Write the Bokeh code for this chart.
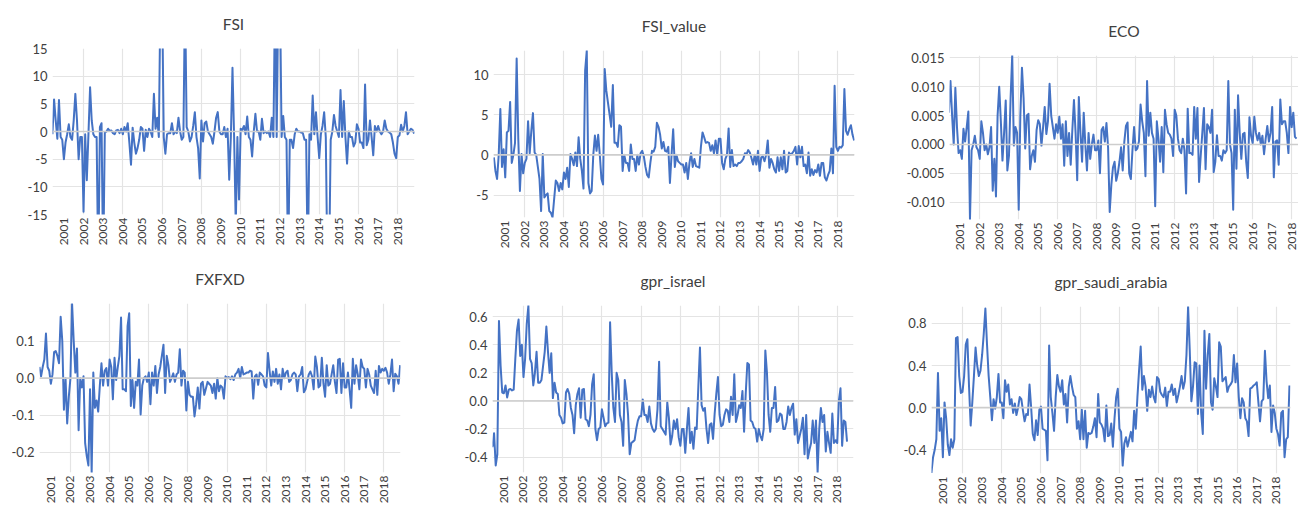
import numpy as np
import pandas as pd
from bokeh.plotting import figure
from bokeh.layouts import row, column
from bokeh.models import FixedTicker, PrintfTickFormatter, Span, Range1d, Title
from bokeh.embed import file_html
from bokeh.resources import INLINE

START = "2000-06-01"
YEAR_LABELS = list(range(2001, 2019))
GRID_YEARS = list(range(2002, 2019, 2))

fsi = [
    -0.5, 5.8, 2.0, -1.3, 5.7, -1.0, -1.5,
    -5.0, -2.0, -0.5, 1.3, -1.0, -1.5, 2.0, 6.8, 2.0, -5.0, -1.0, -1.0,
    -14.5, -0.5, -8.8, -0.5, 8.0, 2.0, -0.5, -1.0, -1.0, -25, 0.8, 1.5,
    -25, -0.2, 0.0, 0.5, 0.1, 0.2, -0.3, -0.5, 0.2, 0.3, -0.3, 0.5,
    -0.5, 0.8, 0.0, 1.5, -2.0, -6.0, 0.7, -2.0, -4.0, -3.0, -1.5, 0.8,
    0.5, -3.5, 0.3, -1.0, 0.5, 0.0, -1.0, 6.8, 0.5, 2.5, -1.0, 25,
    25, -1.0, -4.0, -0.5, -0.3, -0.3, 1.5, -0.5, 0.0, -0.3, 2.5, 0.0,
    -1.5, -1.0, 25, 0.8, 0.0, -1.8, -1.0, 1.0, 3.5, -1.0, -3.0, -8.5,
    2.0, -1.8, 1.5, 1.8, 0.0, -0.5, -1.0, -2.2, 0.0, 2.5, 3.5, 0.0,
    -0.5, -0.5, 0.8, -1.0, 0.5, -8.7, -1.0, 11.5, -1.0, -17, -1.0, -12.3,
    0.5, 0.3, 1.0, -0.5, 2.7, -1.0, -1.5, -4.5, 0.0, 3.2, 0.0, 0.0,
    -1.5, 2.3, -0.3, 0.0, -0.3, 0.0, -1.0, 2.5, -1.0, 25, -1.0, 25,
    25, -1.0, 2.8, -1.0, -1.5, -25, -1.5, -1.5, -3.0, -0.5, 0.5, 0.0,
    0.0, -0.2, -0.3, -1.5, -1.5, -25, -0.5, -1.5, 6.5, -0.5, 3.5, -1.0,
    -4.8, -0.5, 1.0, 3.5, -1.0, -25, -25, -1.5, 0.0, 3.0, 1.0, 0.0,
    -1.0, 7.5, -1.0, 5.5, -1.0, -5.8, 0.0, -1.0, -1.0, -2.7, -2.0, 1.3,
    0.5, -2.0, -2.0, -3.0, 8.5, -2.5, -1.5, 2.0, -1.0, -4.3, 1.0, 0.0,
    1.0, 0.0, -0.5, 0.0, 2.0, 0.5, 0.0, -0.2, -0.5, -2.0, -4.0, -4.8,
    -1.0, -0.7, 1.2, 0.0, 1.0, 3.5, -0.5, 0.0, 0.5, 0.3, -0.4,
]

fsi_value = [
    -0.3, -2.0, -3.0, 0.0, 5.7, -1.5, 0.7,
    -2.8, 2.8, 3.0, 6.6, -1.0, 0.0, 1.5, 12.0, 2.0, -4.5, 0.1, -2.3,
    -1.0, -0.5, 4.2, 0.2, 3.0, 5.2, 0.3, 0.0, -1.5, -3.0, -7.0, 0.1,
    -5.3, -5.0, -4.8, -7.0, -7.2, -7.8, -5.5, -3.2, -3.5, -4.5, -3.5, -4.3,
    -2.2, -3.0, -1.6, -4.0, 0.1, -0.5, -1.3, 0.3, -1.4, 2.2, -0.5, -2.0,
    -4.2, 10.5, 13.0, -3.5, -4.8, -4.5, 0.0, 2.4, 0.5, 2.5, 0.0, -3.0,
    -3.7, 10.7, 8.0, 6.5, 5.0, 3.5, 8.7, 1.5, 1.5, 1.0, 3.7, 3.5,
    -2.0, 0.0, -1.0, -1.0, -2.0, 1.3, -0.5, -0.5, -2.0, 0.0, -1.2, 0.2,
    0.5, -0.2, -1.5, -2.5, -2.8, -1.0, 0.5, 0.4, 1.0, 4.0, 3.5, 2.5,
    0.8, 1.6, 0.5, 0.4, 1.0, -3.5, 0.0, 3.2, -1.5, 0.0, -0.8, -1.0,
    -1.2, -1.2, -2.2, -1.0, -3.0, -1.0, 0.2, -1.5, -0.5, -1.4, -1.5, -1.6,
    1.0, 2.8, 2.2, 1.5, 1.6, 1.5, 0.5, 1.2, 0.2, 1.8, 0.0, 2.0,
    2.0, -1.0, -1.8, -0.5, 0.0, 3.3, -1.5, 0.6, -1.4, -1.2, -1.4, -1.0,
    -1.0, -0.8, -0.5, 0.2, 0.1, 0.6, 0.3, -0.4, -1.2, 0.0, -1.2, 0.5,
    -2.0, -0.3, -0.2, -0.8, 0.0, 1.8, -1.6, -0.5, -1.0, -1.8, -2.2, -0.3,
    -2.0, -0.3, -1.8, 0.5, -2.2, -2.0, 0.3, 0.0, 0.2, 0.5, 1.0, -1.2,
    1.1, -0.3, 1.0, -1.4, -1.2, -2.3, 0.3, -2.6, -1.8, -2.5, -1.9, -2.2,
    -1.2, -2.6, -1.0, -1.0, -2.8, -3.2, -2.5, -2.0, 0.8, -2.3, 8.6, 1.0,
    0.5, 1.0, 0.9, 1.2, 8.2, 3.0, 2.5, 3.2, 3.7, 2.5, 1.8,
]

eco = [
    0.0055, 0.011, 0.005, 0.0, 0.0098, 0.003, -0.0015, -0.001, -0.0025, 0.0027,
    0.0005, 0.003, 0.0057, -0.013, -0.001, 0.0, 0.0015, -0.0005, -0.001, -0.0025,
    0.004, 0.002, -0.001, 0.0, -0.0017, -0.0005, 0.003, -0.008, -0.0025, -0.009,
    0.005, 0.010, 0.004, -0.0028, 0.002, 0.0076, -0.0045, -0.002, 0.008, 0.0155,
    -0.0002, 0.003, 0.002, -0.0113, 0.005, 0.0133, 0.008, -0.0007, 0.005, 0.0053,
    -0.0043, -0.002, -0.001, -0.003, 0.0025, 0.0042, 0.0035, -0.0002, 0.003, 0.0065,
    0.0018, 0.004, 0.0105, 0.005, 0.003, 0.001, 0.0035, 0.002, 0.0048, 0.001, 0.0035,
    -0.0037, 0.004, -0.002, 0.002, -0.0035, 0.0025, 0.0077, 0.002, -0.0062, 0.0082,
    0.002, -0.003, 0.0055, 0.0, -0.0045, 0.002, -0.0025, 0.0, 0.0017, -0.001,
    -0.001, 0.0007, -0.005, 0.0025, 0.003, 0.0005, 0.0037, -0.0005, -0.0117, -0.007,
    -0.004, -0.003, -0.0063, -0.005, -0.003, -0.0005, -0.0045, 0.0005, 0.0032, 0.0038, -0.005,
    -0.006, -0.001, 0.003, -0.001, -0.0007, 0.0005, 0.0069, 0.004, 0.002, -0.0055,
    0.011, 0.0015, 0.0055, 0.002, 0.001, -0.0107, 0.004, 0.001, -0.003, 0.003,
    -0.0048, 0.006, 0.0035, 0.002, 0.0017, 0.001, -0.002, 0.006, 0.005, 0.001,
    -0.001, -0.0015, 0.001, -0.001, -0.0085, 0.0062, -0.0015, -0.0015, -0.0018, 0.0065,
    0.001, 0.0063, -0.0065, -0.002, 0.002, 0.0063, -0.0043, 0.0035, 0.003, 0.002, 0.006,
    -0.0048, -0.003, 0.0016, -0.002, -0.002, -0.0028, -0.001, -0.0015, -0.001, 0.011,
    0.0, -0.0015, -0.0113, 0.006, -0.0042, 0.0085, 0.002, -0.0025, 0.0018, 0.002,
    -0.003, -0.0058, 0.0047, 0.0015, 0.0002, 0.0048, 0.002, 0.0007, 0.002, 0.0,
    0.0015, -0.0017, 0.001, 0.0032, 0.0005, 0.002, 0.0065, -0.0057, 0.0005, 0.0007, -0.0035,
    0.0078, 0.0035, 0.004, 0.004, 0.002, -0.0015, 0.0065, 0.003, 0.0055, 0.0013, 0.001,
]

fxfxd = [
    0.03, 0.005, 0.03, 0.05, 0.12, 0.03, 0.02, -0.015, 0.01, 0.07,
    0.073, 0.06, 0.04, 0.165, 0.1, -0.085, 0.0, -0.122, -0.05, 0.0,
    0.2, 0.1, 0.015, 0.08, -0.14, 0.0, -0.025, 0.005, -0.175, -0.21,
    -0.235, -0.03, -0.254, 0.015, -0.08, -0.06, -0.09, -0.02, 0.04, -0.02,
    0.02, 0.027, -0.02, 0.05, 0.03, -0.057, 0.055, -0.005, 0.03, 0.06,
    0.163, -0.03, -0.03, -0.035, 0.14, 0.175, -0.075, -0.005, -0.08, -0.01,
    -0.02, 0.05, -0.098, -0.02, 0.0, 0.005, -0.01, 0.015, -0.07, 0.015,
    -0.02, 0.033, -0.04, 0.01, 0.03, 0.06, 0.09, -0.04, 0.06, 0.035,
    -0.01, 0.0, 0.013, -0.01, 0.01, 0.015, 0.078, -0.02, 0.02, 0.015,
    -0.087, -0.01, -0.045, -0.05, -0.05, -0.103, -0.07, -0.025, -0.082, -0.015,
    -0.01, -0.045, -0.028, -0.01, -0.015, -0.02, -0.04, -0.015, -0.055, 0.0,
    -0.035, -0.02, -0.025, -0.055, 0.005, 0.0, 0.003, -0.003, 0.005, -0.005,
    0.01, 0.015, 0.025, 0.0, 0.03, 0.01, 0.012, 0.015, 0.015, 0.02,
    0.018, -0.055, 0.005, 0.01, -0.018, 0.015, 0.01, 0.005, -0.02, -0.025,
    0.068, 0.02, -0.02, 0.018, -0.01, 0.025, -0.015, 0.01, -0.03, 0.025,
    0.0, 0.015, 0.02, -0.01, -0.005, 0.01, 0.015, 0.01, -0.035, 0.005, 0.01, 0.03,
    -0.038, -0.03, -0.01, 0.01, 0.018, 0.005, -0.03, 0.058, 0.03, -0.025,
    -0.02, 0.055, -0.015, -0.05, 0.035, -0.02, -0.015, 0.01, 0.035, -0.01,
    -0.04, 0.05, 0.052, -0.04, 0.04, -0.025, -0.025, 0.015, -0.03, -0.08,
    0.052, -0.015, 0.035, 0.01, -0.03, 0.05, 0.03, 0.025, -0.025, 0.025,
    0.01, -0.02, -0.03, -0.04, 0.02, -0.045, 0.033, 0.015, 0.025, 0.02, 0.028, 0.015,
    -0.015, 0.01, 0.05, -0.035, 0.012, 0.005, -0.015, 0.035,
]

gpr_israel = [
    -0.33, -0.23, -0.46, -0.38, 0.57, 0.25, 0.06, 0.055, 0.11, 0.025,
    0.08, 0.085, 0.075, 0.08, 0.3, 0.5, 0.58, 0.32, 0.4, 0.17,
    0.3, 0.55, 0.68, 0.3, 0.27, 0.11, 0.2, 0.35, 0.13, 0.13,
    0.15, 0.25, 0.35, 0.53, 0.35, 0.2, 0.34, 0.02, 0.13, 0.06,
    0.05, -0.1, -0.12, -0.16, -0.155, 0.06, 0.085, 0.05, -0.05, -0.1,
    -0.23, -0.03, 0.05, 0.09, -0.12, 0.08, 0.085, -0.13, -0.14, -0.18,
    -0.1, 0.12, 0.19, -0.2, -0.28, -0.2, -0.19, -0.06, -0.12, -0.18,
    -0.16, -0.155, 0.56, 0.2, -0.05, -0.15, 0.2, 0.15, -0.1, -0.15,
    -0.32, 0.15, 0.05, -0.1, -0.38, -0.3, -0.29, -0.28, -0.2, -0.14,
    -0.11, -0.11, 0.01, -0.1, -0.1, -0.15, -0.04, -0.16, -0.2, -0.22,
    -0.2, -0.06, 0.28, -0.18,
    -0.2, -0.22, -0.24, -0.01, -0.12, -0.31, -0.25, -0.14, -0.2, -0.13,
    -0.26, -0.32, -0.2, -0.2, -0.37, -0.2, -0.05, -0.3, -0.22, -0.34,
    -0.19, -0.2, 0.1, 0.38, -0.03, -0.07, -0.05, -0.2, -0.3, -0.17,
    -0.16, -0.27, -0.09, 0.05, 0.17, -0.1, -0.18, -0.17, -0.1, -0.06,
    -0.07, -0.15, 0.03, -0.1, 0.19, -0.15, -0.1, -0.03, -0.05, 0.07,
    -0.22, 0.05, 0.27, 0.26, -0.14, -0.15, -0.19, -0.2, -0.29, -0.2,
    -0.25, -0.28, -0.2, 0.36, 0.2, -0.1, -0.22, -0.05, -0.05, 0.1,
    -0.15, -0.14, -0.09, -0.1, -0.2, -0.2, -0.15, -0.04, -0.1, -0.05,
    -0.02, -0.24, -0.13, -0.3, -0.25, -0.2, -0.12, -0.38, -0.1, -0.41,
    -0.35, -0.3, -0.14, -0.3, -0.14, -0.51, -0.2, -0.05, -0.15, -0.1,
    -0.36, -0.22, -0.3, -0.37, -0.09, -0.3, -0.28, -0.3, 0.0, 0.09,
    -0.32, -0.14, -0.15, -0.29,
]

gpr_saudi_arabia = [
    -0.62, -0.47, -0.4, -0.3, 0.33, -0.22, -0.1, -0.47, 0.05, -0.1,
    -0.35, -0.45, -0.3, -0.38, -0.3, 0.66, 0.67, 0.3, 0.14, 0.15,
    0.3, 0.6, 0.65, 0.2, -0.17, 0.05, 0.3, 0.57, 0.4, 0.3,
    0.35, 0.5, 0.7, 0.94, 0.6, 0.3, 0.1, -0.12, 0.08, -0.01,
    0.1, 0.32, 0.05, 0.05, -0.1, 0.26, 0.15, 0.22, 0.03, 0.08,
    -0.05, 0.04, -0.07, 0.0, 0.1, 0.08, -0.03, -0.13, -0.06, -0.07,
    0.22, 0.0, -0.25, -0.31, -0.12, -0.26, -0.02, 0.01, -0.2, -0.21,
    -0.22, -0.5, 0.59, 0.1, -0.05, -0.22, 0.1, 0.31, 0.2, 0.15,
    0.26, 0.03, 0.13, -0.14, 0.2, 0.3, 0.2, 0.12, 0.1, -0.2,
    -0.13, -0.3, -0.02, -0.3, -0.03, -0.38, -0.24, -0.25, -0.24, -0.18,
    -0.1, -0.28, 0.13, -0.14, -0.16, -0.2, -0.32, 0.02, -0.27, -0.26, -0.15,
    -0.37, -0.1, 0.1, 0.18, -0.2, -0.23, -0.55, -0.34, -0.28, -0.37,
    -0.3, -0.23, -0.32, -0.03, -0.2, 0.1, 0.35, 0.58, 0.17, 0.3,
    0.2, -0.03, 0.17, 0.1, 0.2, 0.1, 0.05, 0.29, 0.27, 0.15,
    0.12, 0.1, 0.19, 0.01, 0.15, 0.15, 0.22, 0.12, 0.18, 0.05, 0.12,
    0.2, 0.3, 0.18, 0.25, 0.5, 0.96, 0.55, 0.06, 0.2, 0.43,
    0.42, -0.06, 0.4, -0.05, -0.25, 0.73, 0.18, 0.5, 0.7, 0.05,
    -0.02, 0.28, 0.2, 0.1, 0.62, 0.58, 0.25, 0.27, 0.29, 0.15,
    0.2, 0.22, 0.25, 0.5, 0.24, 0.42, 0.1, -0.1, 0.09, 0.05, -0.1,
    -0.13, -0.27, 0.18, 0.19, 0.21, 0.22, 0.24, 0.05, -0.13, 0.06,
    0.08, 0.54, 0.25, 0.09, 0.21, -0.23, 0.02, -0.05, -0.2, -0.25,
    -0.36, -0.05, -0.03, -0.47, -0.3, -0.28, 0.21,
]

LINE = "#4472C4"
TEXT = "#404040"
FONT = "Lato"


def month_years(n):
    d = pd.date_range(START, periods=n, freq="MS")
    return (d.year + (d.month - 1) / 12.0).to_numpy()


def panel(title, vals, xr, yr, yticks, fmt, width, height, borders):
    left, right, top, bottom = borders
    p = figure(width=width, height=height, output_backend="svg", toolbar_location=None,
               x_range=Range1d(*xr), y_range=Range1d(*yr),
               min_border_left=left, min_border_right=right,
               min_border_top=top, min_border_bottom=bottom)
    p.title_location = None
    p.outline_line_color = None
    p.background_fill_color = "white"
    p.border_fill_color = "white"

    # spacer nearest the frame, then the visible title above it
    p.add_layout(Title(text=" ", text_font_size="1px", standoff=13), "above")
    p.add_layout(Title(text=title, align="center", standoff=0, text_font=FONT,
                       text_font_size="15.5px", text_font_style="normal",
                       text_color=TEXT), "above")

    p.xaxis.ticker = FixedTicker(ticks=YEAR_LABELS)
    p.xaxis.major_label_orientation = np.pi / 2
    p.xgrid.ticker = FixedTicker(ticks=GRID_YEARS)
    p.yaxis.ticker = FixedTicker(ticks=yticks)
    p.yaxis.formatter = PrintfTickFormatter(format=fmt)
    for ax in (p.xaxis[0], p.yaxis[0]):
        ax.axis_line_color = None
        ax.major_tick_line_color = None
        ax.minor_tick_line_color = None
        ax.major_tick_out = 0
        ax.major_tick_in = 0
        ax.minor_tick_out = 0
        ax.minor_tick_in = 0
        ax.major_label_text_font = FONT
        ax.major_label_text_color = TEXT
    p.xaxis.major_label_text_font_size = "12px"
    p.xaxis.major_label_standoff = 3
    p.yaxis.major_label_text_font_size = "13px"
    p.yaxis.major_label_standoff = 5
    p.xgrid.grid_line_color = "#e4e4e4"
    p.ygrid.grid_line_color = "#e4e4e4"
    p.xgrid.grid_line_width = 1.2
    p.ygrid.grid_line_width = 1.2

    p.add_layout(Span(location=0, dimension="width", line_color="#cdcdcd", line_width=1.6))
    p.line(month_years(len(vals)), vals, line_color=LINE, line_width=2, line_join="round")
    return p


f1 = panel("FSI", fsi, (2000.42, 2018.85), (-15, 15), [-15, -10, -5, 0, 5, 10, 15], "%d",
           440, 253, (52, 26, 48, 39))
f2 = panel("FSI_value", fsi_value, (2000.40, 2018.85), (-7.8, 13.0), [-5, 0, 5, 10], "%d",
           430, 253, (53, 16, 50, 36))
f3 = panel("ECO", eco, (2000.45, 2018.35), (-0.0130, 0.0154),
           [-0.010, -0.005, 0.0, 0.005, 0.010, 0.015], "%.3f",
           428, 253, (79, 0, 55, 31))
f4 = panel("FXFXD", fxfxd, (2000.42, 2018.85), (-0.254, 0.201), [-0.2, -0.1, 0.0, 0.1], "%.1f",
           440, 254, (39, 40, 50, 35))
f5 = panel("gpr_israel", gpr_israel, (2000.42, 2018.83), (-0.51, 0.68),
           [-0.4, -0.2, 0.0, 0.2, 0.4, 0.6], "%.1f",
           430, 254, (52, 17, 52, 35))
f6 = panel("gpr_saudi_arabia", gpr_saudi_arabia, (2000.42, 2018.72), (-0.625, 0.96),
           [-0.4, 0.0, 0.4, 0.8], "%.1f",
           428, 254, (61, 8, 53, 34))

# each figure is wrapped on its own so that a row does not align the plot frames
layout = column(
    row(column(f1), column(f2), column(f3)),
    row(column(f4), column(f5), column(f6)),
)
open("out.html", "w").write(file_html(layout, INLINE))
